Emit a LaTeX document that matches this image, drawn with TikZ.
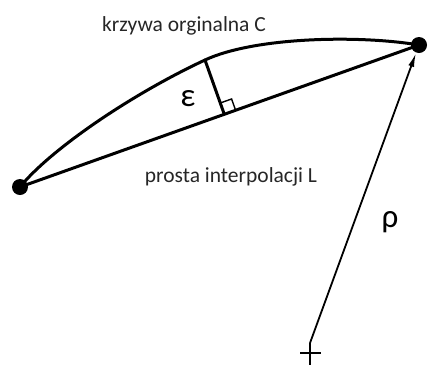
\documentclass[tikz,border=0pt]{standalone}
\usepackage{fontspec}
\setmainfont{Carlito}
\usetikzlibrary{calc,arrows.meta}
\begin{document}
\begin{tikzpicture}[x=1pt,y=-1pt,
  thick line/.style={line width=3pt,line cap=round,line join=round},
  thin line/.style={line width=1.8pt},
  dotnode/.style={circle,fill=black,inner sep=0pt,minimum size=16pt},
  lbl/.style={font=\fontsize{21.5}{24}\selectfont,text=black!85,inner sep=0pt},
  greek/.style={font=\fontsize{33}{36}\selectfont,inner sep=0pt}]
\useasboundingbox (0,0) rectangle (428,365);
\coordinate (A) at (20,187);
\coordinate (B) at (419,45);
\coordinate (P) at (205,60);
\coordinate (F) at ($(A)!(P)!(B)$);
% curve
\draw[thick line] (A) .. controls (50,150) and (130,95) .. (P)
                      .. controls (255,36.7) and (360,35) .. (B);
% chord
\draw[thick line] (A) -- (B);
% perpendicular
\draw[thick line] (P) -- (F);
% right-angle marker
\coordinate (Q1) at ($(F)!12pt!(B)$);
\coordinate (Q3) at ($(F)!12pt!(P)$);
\coordinate (Q2) at ($(Q1)+(Q3)-(F)$);
\draw[line width=1.4pt] (Q1) -- (Q2) -- (Q3);
% dots
\node[dotnode] (dA) at (A) {};
\node[dotnode] (dB) at (B) {};
% radius arrow
\coordinate (O) at (310,353);
\coordinate (Otop) at (310,343);
\draw[thin line] (300,353) -- (321,353);
\draw[thin line] (310,343) -- (310,365);
\draw[thin line,-{Latex[length=14pt,width=6pt]}] (Otop) -- ($(B)+(-3,8)$);
% labels
\node[lbl] (tC) at (184,26) {krzywa orginalna C};
\node[lbl] (tL) at (231,177) {prosta interpolacji L};
\node[greek] (eps) at (188,99) {ε};
\node[greek] (rho) at (390,222) {ρ};
\end{tikzpicture}
\end{document}
